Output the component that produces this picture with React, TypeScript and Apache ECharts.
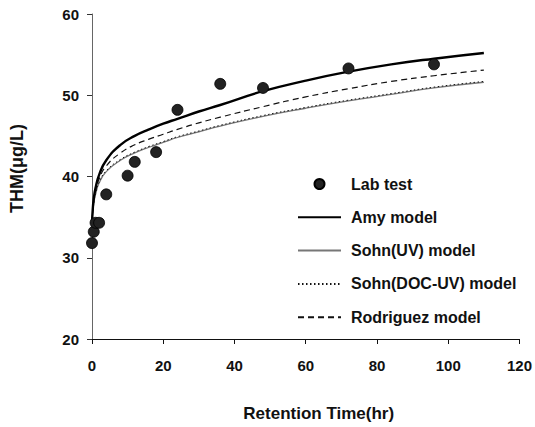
import React, { useEffect, useRef } from "react";
import * as echarts from "echarts";

const xTicks = [0, 20, 40, 60, 80, 100, 120];
const yTicks = [20, 30, 40, 50, 60];

const labTime = [0, 0.5, 1, 2, 4, 10, 12, 18, 24, 36, 48, 72, 96];
const labThm = [31.8, 33.2, 34.3, 34.3, 37.8, 40.1, 41.8, 43.0, 48.2, 51.4, 50.9, 53.3, 53.8];

const modelTime = [0, 0.2, 0.5, 1, 2, 4, 8, 12, 16, 20, 24, 30, 36, 48, 60, 72, 84, 96, 110];
const amyModel = [34.3, 35.9, 37.3, 38.6, 40.2, 42.0, 43.9, 45.0, 45.8, 46.5, 47.1, 48.0, 48.8, 50.5, 51.8, 52.9, 53.8, 54.5, 55.2];
const sohnUvModel = [34.3, 35.5, 36.7, 37.8, 39.2, 40.6, 42.0, 42.9, 43.6, 44.2, 44.8, 45.5, 46.2, 47.4, 48.4, 49.3, 50.1, 50.9, 51.6];
const sohnDocUvModel = [34.3, 35.6, 36.8, 37.9, 39.3, 40.7, 42.1, 43.0, 43.7, 44.3, 44.9, 45.6, 46.3, 47.5, 48.5, 49.4, 50.2, 51.0, 51.7];
const rodriguezModel = [34.3, 35.7, 37.0, 38.2, 39.7, 41.3, 42.9, 43.9, 44.6, 45.2, 45.8, 46.6, 47.3, 48.6, 49.8, 50.8, 51.7, 52.4, 53.1];

const FONT = 'Arial, "Liberation Sans", sans-serif';

const pairs = (xs: number[], ys: number[]) => xs.map((x, i) => [x, ys[i]]);

export default function App() {
  const ref = useRef<HTMLDivElement>(null);
  useEffect(() => {
    if (!ref.current) return;
    const chart = echarts.init(ref.current, undefined, { renderer: "svg" });
    const lineBase = {
      type: "line" as const,
      showSymbol: false,
      symbol: "none",
      smooth: 0.5,
      z: 2,
    };
    const hiddenSymbol = { opacity: 0 };
    chart.setOption({
      animation: false,
      backgroundColor: "#fff",
      textStyle: { fontFamily: FONT },
      grid: { left: 90.7, right: 14, top: 14, bottom: 83.7, containLabel: false },
      xAxis: {
        type: "value",
        min: xTicks[0],
        max: xTicks[xTicks.length - 1],
        interval: 20,
        name: "Retention Time(hr)",
        nameLocation: "middle",
        nameGap: 66,
        nameTextStyle: { fontSize: 17, fontWeight: "bold", color: "#111", fontFamily: FONT, padding: [0, 0, 0, 26] },
        axisLine: { onZero: false, lineStyle: { color: "#111", width: 1.2 } },
        axisTick: { show: true, inside: false, length: 5, lineStyle: { color: "#111" } },
        axisLabel: { fontSize: 15, fontWeight: "bold", color: "#111", margin: 19, fontFamily: FONT },
        splitLine: { show: false },
      },
      yAxis: {
        type: "value",
        min: yTicks[0],
        max: yTicks[yTicks.length - 1],
        interval: 10,
        name: "THM(μg/L)",
        nameLocation: "middle",
        nameGap: 66,
        nameRotate: 90,
        nameTextStyle: { fontSize: 18, fontWeight: "bold", color: "#111", fontFamily: FONT, padding: [0, 0, 0, 16] },
        axisLine: { show: true, onZero: false, lineStyle: { color: "#666", width: 1 } },
        axisTick: { show: true, inside: false, length: 5, lineStyle: { color: "#333" } },
        axisLabel: { fontSize: 15, fontWeight: "bold", color: "#111", margin: 13, fontFamily: FONT },
        splitLine: { show: false },
      },
      legend: {
        orient: "vertical",
        left: 292,
        top: 171,
        itemWidth: 43,
        itemHeight: 10,
        itemGap: 17.3,
        selectedMode: false,
        textStyle: { fontSize: 16, fontWeight: "bold", color: "#111", fontFamily: FONT, lineHeight: 16, padding: [0, 0, 0, 5] },
        data: [
          { name: "Lab test", icon: "circle" },
          { name: "Amy model", itemStyle: hiddenSymbol },
          { name: "Sohn(UV) model", itemStyle: hiddenSymbol },
          { name: "Sohn(DOC-UV) model", itemStyle: hiddenSymbol },
          { name: "Rodriguez model", itemStyle: hiddenSymbol },
        ],
      },
      series: [
        {
          ...lineBase,
          name: "Sohn(UV) model",
          data: pairs(modelTime, sohnUvModel),
          lineStyle: { color: "#777", width: 1.3, type: "solid" },
          itemStyle: { color: "#777" },
        },
        {
          ...lineBase,
          name: "Sohn(DOC-UV) model",
          data: pairs(modelTime, sohnDocUvModel),
          lineStyle: { color: "#111", width: 1, type: [1.5, 2.5] },
          itemStyle: { color: "#111" },
        },
        {
          ...lineBase,
          name: "Rodriguez model",
          data: pairs(modelTime, rodriguezModel),
          lineStyle: { color: "#111", width: 1.2, type: [6, 4] },
          itemStyle: { color: "#111" },
        },
        {
          ...lineBase,
          name: "Amy model",
          data: pairs(modelTime, amyModel),
          lineStyle: { color: "#000", width: 2.4, type: "solid" },
          itemStyle: { color: "#000" },
        },
        {
          name: "Lab test",
          type: "scatter",
          symbol: "circle",
          symbolSize: 11,
          z: 5,
          data: pairs(labTime, labThm),
          itemStyle: { color: "#222", borderColor: "#000", borderWidth: 0.8, opacity: 1 },
        },
      ],
    });
    return () => chart.dispose();
  }, []);
  return (
    <div
      ref={ref}
      style={{ position: "fixed", left: 0, top: 0, width: 535, height: 427, background: "#fff" }}
    />
  );
}
